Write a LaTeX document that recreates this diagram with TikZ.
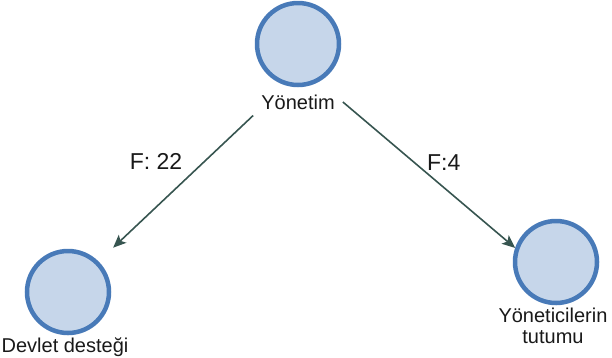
\documentclass[tikz,border=0pt]{standalone}
\usepackage{fontspec}
\setmainfont{Liberation Sans}
\usepackage{tikz}
\usetikzlibrary{arrows.meta}
\definecolor{nodefill}{RGB}{198,214,234}
\definecolor{nodeline}{RGB}{72,122,184}
\definecolor{edgecol}{RGB}{55,85,80}
\definecolor{textcol}{RGB}{25,25,25}
\begin{document}
\begin{tikzpicture}[x=1pt,y=-1pt]
  \tikzstyle{actor}=[circle,draw=nodeline,fill=nodefill,line width=4.5pt,minimum size=82pt,inner sep=0pt]
  \tikzstyle{actorlbl}=[text=textcol,font=\fontsize{20}{21}\selectfont,align=center,inner sep=0pt]
  \tikzstyle{weightlbl}=[text=textcol,font=\fontsize{23}{24}\selectfont,inner sep=0pt]
  \tikzstyle{flow}=[draw=edgecol,line width=1.6pt,-{Stealth[length=13pt,width=11pt,inset=3pt]}]
  \useasboundingbox (0,0) rectangle (612,357);
  \node [actor] (yonetim) at (298,44) {};
  \node [actor] (devlet)  at (68,292) {};
  \node [actor] (tutum)   at (556,262) {};
  \node [actorlbl,inner xsep=8pt,inner ysep=6pt] (yonetimlbl) at (298,102) {Yönetim};
  \node [actorlbl] (devletlbl) at (65,347) {Devlet desteği};
  \node [actorlbl] (tutumlbl)  at (553,326) {Yöneticilerin\\tutumu};
  \draw [flow,shorten >=20pt] (yonetimlbl.south west) to node [weightlbl,pos=0.35,left=16pt,yshift=5pt] {F: 22} (devlet.45);
  \draw [flow] (yonetimlbl.east) to node [weightlbl,pos=0.45,right=6pt,yshift=5pt] {F:4} (tutum.161);
\end{tikzpicture}
\end{document}
